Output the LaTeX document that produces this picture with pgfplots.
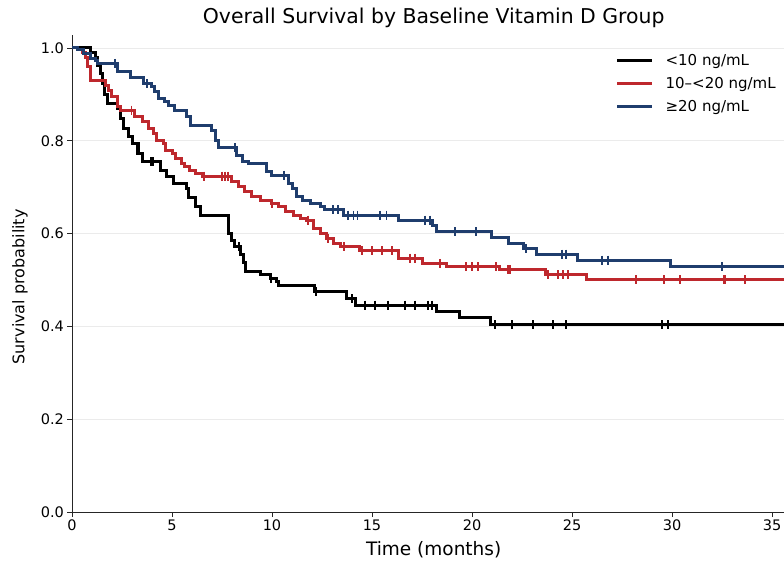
\documentclass[border=0pt]{standalone}
\usepackage{pgfplots}
\pgfplotsset{compat=1.18}
\usetikzlibrary{calc}
\usepackage{fontspec}
\setmainfont{DejaVu Sans}
\definecolor{kmred}{HTML}{BE282D}
\definecolor{kmblue}{HTML}{1F3D6D}

\begin{document}
\begin{tikzpicture}
\begin{axis}[
  scale only axis, width=712pt, height=477pt,
  xmin=0, xmax=35.6, ymin=0, ymax=1.028,
  axis x line*=bottom, axis y line*=left,
  axis line style={-, line width=0.9pt, color=black!85},
  xtick={0,5,10,15,20,25,30,35},
  ytick={0,0.2,0.4,0.6,0.8,1.0},
  tick align=outside, major tick length=4.5pt,
  tick style={line width=0.9pt, color=black!85},
  ymajorgrids, grid style={line width=0.8pt, color=black!8},
  /pgf/number format/assume math mode=true,
  ticklabel style={font=\fontsize{14.5}{17}\selectfont},
  yticklabel style={/pgf/number format/.cd, fixed, fixed zerofill, precision=1},
  title={Overall Survival by Baseline Vitamin D Group},
  title style={font=\fontsize{20.4}{23}\selectfont, at={(axis description cs:0.508,1)}, anchor=south, yshift=-2.5pt},
  xlabel={Time (months)},
  xlabel style={font=\fontsize{18.5}{21}\selectfont, at={(axis description cs:0.508,0)}, anchor=north, yshift=-26pt},
  ylabel={Survival probability},
  ylabel style={font=\fontsize{16}{19}\selectfont, at={(axis description cs:-0.073,0.472)}, anchor=center},
  legend style={draw=none, fill=none, at={(axis description cs:0.759,0.969)}, anchor=north west,
    font=\fontsize{15}{17}\selectfont, row sep=6.5pt},
  legend cell align=left,
  legend image code/.code={\draw (0pt,0pt) -- (35pt,0pt); \path (45pt,0pt);},
]
% <10 ng/mL
\addplot[const plot, black, line width=3pt] coordinates {
(0,1.000) (0.95,0.990) (1.20,0.980) (1.30,0.963) (1.45,0.945) (1.55,0.923)
(1.65,0.900) (1.80,0.880) (2.30,0.870) (2.45,0.848) (2.60,0.827) (2.85,0.809)
(3.05,0.795) (3.30,0.773) (3.50,0.755) (4.40,0.737) (4.70,0.723) (5.05,0.709)
(5.70,0.698) (5.80,0.677) (6.15,0.658) (6.40,0.640) (7.80,0.600) (7.95,0.586)
(8.10,0.572) (8.40,0.556) (8.55,0.537) (8.65,0.518) (9.40,0.511) (9.90,0.504)
(10.20,0.496) (10.30,0.489) (12.10,0.475) (13.70,0.460) (14.15,0.446)
(18.20,0.433) (19.35,0.419) (20.90,0.404) (35.6,0.404)};
\addlegendentry{<10 ng/mL}
% 10-<20 ng/mL
\addplot[const plot, kmred, line width=3pt] coordinates {
(0,1.000) (0.30,0.996) (0.55,0.990) (0.70,0.980) (0.80,0.960) (0.95,0.931)
(1.70,0.920) (1.85,0.909) (2.00,0.895) (2.30,0.873) (2.45,0.866) (3.15,0.852)
(3.50,0.841) (3.80,0.827) (4.05,0.816) (4.20,0.800) (4.55,0.795) (4.65,0.780)
(5.00,0.773) (5.15,0.762) (5.45,0.752) (5.60,0.744) (5.85,0.737) (6.15,0.730)
(6.50,0.724) (7.95,0.712) (8.30,0.701) (8.60,0.690) (8.95,0.680) (9.40,0.672)
(9.95,0.665) (10.30,0.658) (10.65,0.647) (11.05,0.640) (11.40,0.633) (11.70,0.629)
(12.05,0.611) (12.40,0.600) (12.70,0.590) (13.05,0.579) (13.40,0.572) (14.35,0.563)
(16.30,0.547) (17.50,0.536) (18.70,0.529) (21.35,0.522) (23.65,0.511) (25.70,0.500)
(35.6,0.500)};
\addlegendentry{10–<20 ng/mL}
% >=20 ng/mL
\addplot[const plot, kmblue, line width=3pt] coordinates {
(0,1.000) (0.30,0.996) (0.60,0.988) (0.95,0.978) (1.20,0.974) (1.30,0.967)
(2.30,0.949) (2.95,0.937) (3.55,0.923) (3.95,0.916) (4.10,0.906) (4.30,0.891)
(4.60,0.884) (4.80,0.877) (5.10,0.866) (5.70,0.852) (5.90,0.834) (6.95,0.823)
(7.15,0.800) (7.30,0.785) (8.20,0.769) (8.50,0.755) (8.80,0.751) (9.70,0.733)
(9.95,0.726) (10.80,0.708) (11.00,0.697) (11.20,0.680) (11.50,0.672) (11.90,0.665)
(12.40,0.659) (12.60,0.651) (13.55,0.640) (16.30,0.629) (18.00,0.617) (18.20,0.604)
(20.95,0.591) (21.80,0.579) (22.55,0.567) (23.20,0.556) (25.25,0.543) (29.90,0.529)
(35.6,0.529)};
\addlegendentry{≥20 ng/mL}
% censoring marks
\addplot[forget plot, only marks, mark=|, mark size=4.5pt, black, mark options={line width=1.2pt}] coordinates {
(3.95,0.755) (4.05,0.755) (8.35,0.572) (9.95,0.504) (12.2,0.475) (14.0,0.460)
(14.65,0.446) (15.15,0.446) (15.8,0.446) (16.65,0.446) (17.15,0.446) (17.8,0.446) (18.0,0.446)
(21.15,0.404) (22.0,0.404) (23.05,0.404) (24.05,0.404) (24.7,0.404) (29.5,0.404) (29.8,0.404)};
\addplot[forget plot, only marks, mark=|, mark size=4.5pt, kmred, mark options={line width=1.2pt}] coordinates {
(2.98,0.866) (6.6,0.724) (7.5,0.724) (7.65,0.724) (7.8,0.724) (10.0,0.665) (11.8,0.629)
(12.8,0.590) (13.6,0.572) (14.5,0.563) (15.0,0.563) (15.5,0.563) (16.0,0.563) (16.9,0.547)
(17.15,0.547) (18.4,0.536) (19.7,0.529) (20.0,0.529) (20.3,0.529) (21.2,0.529) (21.8,0.522)
(21.9,0.522) (23.8,0.511) (24.3,0.511) (24.55,0.511) (24.8,0.511) (28.2,0.500) (29.6,0.500)
(30.4,0.500) (32.6,0.500) (32.65,0.500) (33.65,0.500)};
\addplot[forget plot, only marks, mark=|, mark size=4.5pt, kmblue, mark options={line width=1.2pt}] coordinates {
(2.15,0.967) (3.75,0.923) (8.15,0.785) (10.6,0.726) (13.05,0.651) (13.3,0.651) (13.8,0.640)
(14.07,0.640) (14.27,0.640) (15.4,0.640) (15.73,0.640) (17.65,0.629) (17.9,0.629) (19.15,0.604)
(20.2,0.604) (22.7,0.567) (24.5,0.556) (24.7,0.556) (26.5,0.543) (26.8,0.543) (32.5,0.529)};
\end{axis}
\pgfresetboundingbox
\path[use as bounding box] ($(current axis.south west)+(-72pt,-55pt)$) rectangle ($(current axis.north east)+(0pt,35pt)$);
\end{tikzpicture}
\end{document}
